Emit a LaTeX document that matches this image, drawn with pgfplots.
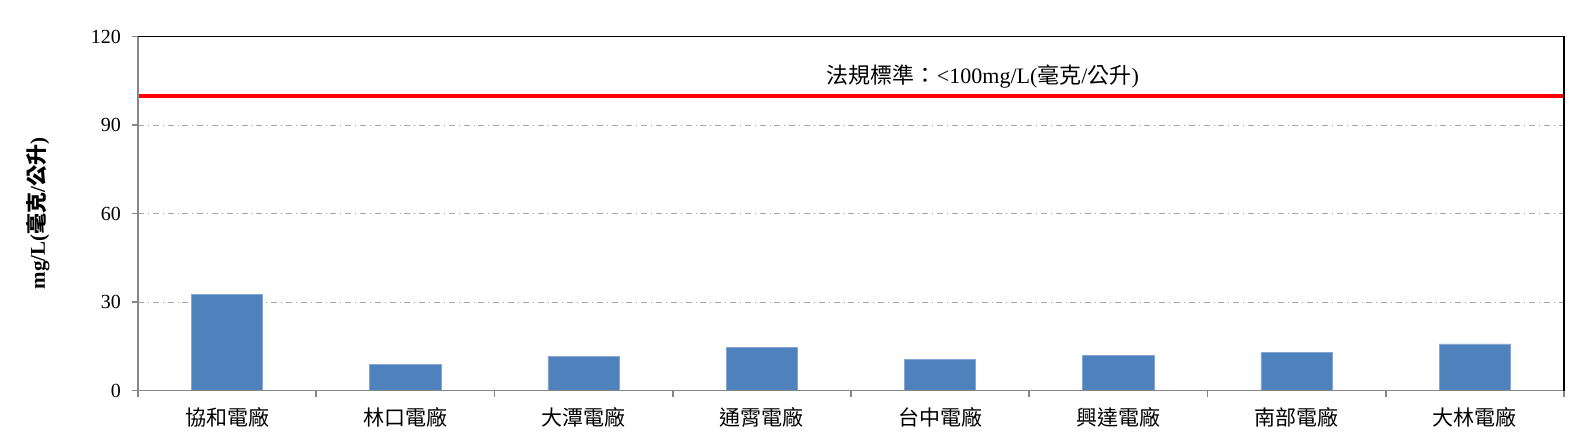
\documentclass[border=0pt]{standalone}
\usepackage{pgfplots}
\pgfplotsset{compat=1.18}
\usepackage{fontspec}
\setmainfont{Liberation Serif}
\newfontfamily\cjk{Noto Sans CJK TC}
\definecolor{barblue}{HTML}{4F81BD}
\definecolor{axisgray}{HTML}{868686}

\begin{document}
\begin{tikzpicture}
\begin{axis}[
scale only axis,
width = 713pt, height = 177pt,
xmin = 0.5, xmax = 8.5,
ymin = 0, ymax = 120,
ytick = {0,30,60,90,120},
xtick = {1,...,8},
xticklabels = {{\cjk 協和電廠}, {\cjk 林口電廠}, {\cjk 大潭電廠}, {\cjk 通霄電廠},
               {\cjk 台中電廠}, {\cjk 興達電廠}, {\cjk 南部電廠}, {\cjk 大林電廠}},
minor xtick = {0.5,1.5,...,8.5},
tick pos = lower,
x tick style = {draw=none},
minor x tick style = {draw=axisgray, line width=0.8pt},
y tick style = {draw=axisgray, line width=0.8pt},
tick align = outside,
major tick length = 3pt, minor tick length = 3pt,
ymajorgrids,
grid style = {gray!70, dash dot, line width=0.4pt},
axis line style = {draw=none},
yticklabel style = {xshift=-2pt, font=\fontsize{10}{12}\selectfont},
xticklabel style = {yshift=-2pt, font=\fontsize{10.5}{12}\selectfont},
/pgf/number format/assume math mode = true,
ylabel = {\bfseries mg/L({\cjk 毫克}/{\cjk 公升})},
every axis y label/.style = {at={(axis description cs:-0.0701,0.5)}, rotate=90, anchor=center, font=\fontsize{10.5}{12}\selectfont},
clip = false,
]
% bars
\addplot[ybar, bar width=35.7pt, fill=barblue, draw=barblue!70!white]
coordinates {(1,32.7) (2,8.8) (3,11.6) (4,14.6) (5,10.6) (6,11.9) (7,12.8) (8,15.8)};

% legal limit
\addplot[red, line width=2pt] coordinates {(0.5,100) (8.5,100)};
\node[font=\fontsize{11}{13}\selectfont] at (axis cs:5.24,106.6)
  {{\cjk 法規標準：}<100mg/L({\cjk 毫克}/{\cjk 公升})};

% frame
\draw[axisgray, line width=0.8pt] (rel axis cs:0,1) -- (rel axis cs:0,0) -- (rel axis cs:1,0);
\draw[black, line width=0.8pt] (rel axis cs:0,1) -- (rel axis cs:1,1) -- (rel axis cs:1,0);

% page margins
\path ([xshift=-69pt,yshift=-26.3pt]rel axis cs:0,0) rectangle ([xshift=14.5pt,yshift=18.3pt]rel axis cs:1,1);
\end{axis}
\end{tikzpicture}
\end{document}
